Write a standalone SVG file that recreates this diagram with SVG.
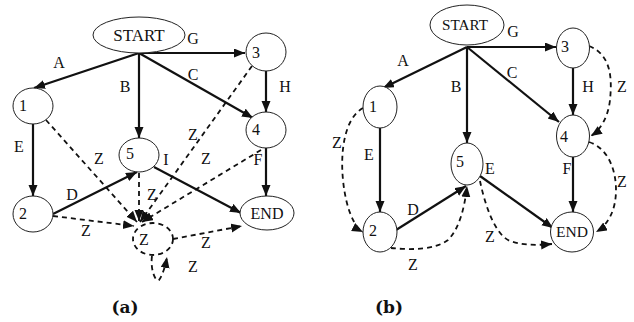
<svg xmlns="http://www.w3.org/2000/svg" width="634" height="322" viewBox="0 0 634 322">
<style>
.n{fill:#fff;stroke:#222;stroke-width:1}
.nd{fill:#fff;stroke:#111;stroke-width:1.8;stroke-dasharray:5,4}
.e{fill:none;stroke:#111;stroke-width:2.2;marker-end:url(#ah)}
.d{fill:none;stroke:#111;stroke-width:1.8;stroke-dasharray:5,4;marker-end:url(#ah)}
.t{font-family:"Liberation Serif","Times New Roman",serif;font-size:16px;fill:#111;text-anchor:middle}
.c{font-family:"DejaVu Serif","Liberation Serif",serif;font-size:17px;font-weight:bold;fill:#111;text-anchor:middle}
</style>
<defs>
<marker id="ah" markerUnits="userSpaceOnUse" markerWidth="12" markerHeight="10" refX="11" refY="4.5" orient="auto">
<path d="M0,0 L11,4.5 L0,9 z" fill="#111"/>
</marker>
</defs>

<g id="connectors">
<!-- panel a -->
<path class="e" d="M139,53 L34,88"/>
<path class="e" d="M139,53 L139,138"/>
<path class="e" d="M139,53 L245,53"/>
<path class="e" d="M139,53 L253,118"/>
<path class="e" d="M266,71 L266,112"/>
<path class="e" d="M33,124 L33,196"/>
<path class="e" d="M53,214 L137,172"/>
<path class="e" d="M154,167 L241,213"/>
<path class="e" d="M266,148 L266,196"/>
<path class="d" d="M46,120 L137,222"/>
<path class="d" d="M252,66 L140,222"/>
<path class="d" d="M261,150 L142,222"/>
<path class="d" d="M139,173 L139,221"/>
<path class="d" d="M53,216 L134,226"/>
<path class="d" d="M173,239 L242,226"/>
<path class="d" d="M152,256 C150,270 156,283 159,280 C162,276 165,268 167,257"/>
<!-- panel b -->
<path class="e" d="M467,47 L383,88"/>
<path class="e" d="M467,47 L467,143"/>
<path class="e" d="M467,47 L556,47"/>
<path class="e" d="M467,47 L559,122"/>
<path class="e" d="M573,68 L573,115"/>
<path class="e" d="M380,128 L380,212"/>
<path class="e" d="M396,230 L466,186"/>
<path class="e" d="M480,176 L553,228"/>
<path class="e" d="M573,157 L573,212"/>
<path class="d" d="M589,46 C612,55 612,80 610,100 C608,118 600,130 591,136"/>
<path class="d" d="M363,108 C345,118 340,150 343,180 C346,210 355,228 363,232"/>
<path class="d" d="M391,248 C410,250 435,250 448,240 C460,228 465,205 467,186"/>
<path class="d" d="M480,181 C485,205 495,235 510,241 C525,246 540,245 552,244"/>
<path class="d" d="M589,142 C608,148 616,170 616,190 C616,210 608,225 596,232"/>
</g>

<g id="a-start"><ellipse class="n" cx="139" cy="35" rx="46" ry="18"/><text class="t" x="139" y="41" style="font-size:17px">START</text></g>
<g id="a-n3"><ellipse class="n" cx="266" cy="52" rx="20" ry="19"/><text class="t" x="256" y="58">3</text></g>
<g id="a-n1"><ellipse class="n" cx="33" cy="106" rx="20" ry="18"/><text class="t" x="23" y="111">1</text></g>
<g id="a-n4"><ellipse class="n" cx="266" cy="130" rx="20" ry="18"/><text class="t" x="256" y="135">4</text></g>
<g id="a-n5"><ellipse class="n" cx="139" cy="155" rx="20" ry="17"/><text class="t" x="130" y="159">5</text></g>
<g id="a-n2"><ellipse class="n" cx="33" cy="214" rx="20" ry="18"/><text class="t" x="23" y="219">2</text></g>
<g id="a-end"><ellipse class="n" cx="267" cy="213" rx="27" ry="17"/><text class="t" x="267" y="219">END</text></g>
<g id="a-z"><ellipse class="nd" cx="153" cy="239" rx="20" ry="16" fill="none" style="fill:none"/><text class="t" x="144" y="245">Z</text></g>

<g id="a-labels">
<text class="t" x="193" y="44">G</text>
<text class="t" x="59" y="68">A</text>
<text class="t" x="125" y="92">B</text>
<text class="t" x="193" y="80">C</text>
<text class="t" x="285" y="92">H</text>
<text class="t" x="19" y="152">E</text>
<text class="t" x="72" y="200">D</text>
<text class="t" x="166" y="165">I</text>
<text class="t" x="258" y="165">F</text>
<text class="t" x="99" y="164">Z</text>
<text class="t" x="193" y="140">Z</text>
<text class="t" x="206" y="164">Z</text>
<text class="t" x="152" y="200">Z</text>
<text class="t" x="86" y="236">Z</text>
<text class="t" x="206" y="248">Z</text>
<text class="t" x="193" y="272">Z</text>
</g>

<g id="b-start"><ellipse class="n" cx="467" cy="25" rx="37" ry="20"/><text class="t" x="465" y="30" style="font-size:15px" textLength="46" lengthAdjust="spacingAndGlyphs">START</text></g>
<g id="b-n3"><ellipse class="n" cx="573" cy="48" rx="16.5" ry="20"/><text class="t" x="565" y="52">3</text></g>
<g id="b-n1"><ellipse class="n" cx="380" cy="107" rx="17" ry="21"/><text class="t" x="373" y="112">1</text></g>
<g id="b-n4"><ellipse class="n" cx="573" cy="136" rx="16.5" ry="21"/><text class="t" x="564" y="142">4</text></g>
<g id="b-n5"><ellipse class="n" cx="467" cy="164" rx="16" ry="21"/><text class="t" x="460" y="167">5</text></g>
<g id="b-n2"><ellipse class="n" cx="380" cy="232" rx="17" ry="20"/><text class="t" x="373" y="236">2</text></g>
<g id="b-end"><ellipse class="n" cx="572" cy="232" rx="21.5" ry="20"/><text class="t" x="572" y="237" style="font-size:15px" textLength="32" lengthAdjust="spacingAndGlyphs">END</text></g>

<g id="b-labels">
<text class="t" x="513" y="37">G</text>
<text class="t" x="403" y="66">A</text>
<text class="t" x="456" y="92">B</text>
<text class="t" x="512" y="78">C</text>
<text class="t" x="588" y="92">H</text>
<text class="t" x="622" y="92">Z</text>
<text class="t" x="337" y="148">Z</text>
<text class="t" x="369" y="160">E</text>
<text class="t" x="413" y="215">D</text>
<text class="t" x="413" y="270">Z</text>
<text class="t" x="490" y="174">E</text>
<text class="t" x="490" y="242">Z</text>
<text class="t" x="567" y="174">F</text>
<text class="t" x="622" y="187">Z</text>
</g>

<g id="captions">
<text class="c" x="125" y="313">(a)</text>
<text class="c" x="389" y="313">(b)</text>
</g>
</svg>
